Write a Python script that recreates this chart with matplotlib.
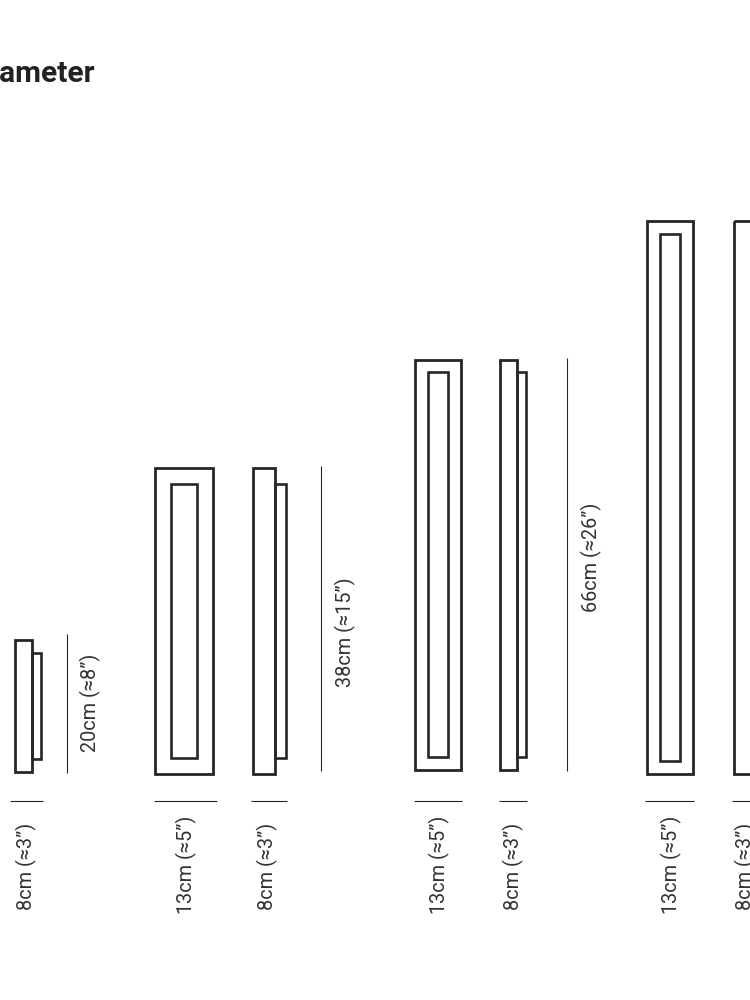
import matplotlib
matplotlib.use("Agg")
import matplotlib.pyplot as plt
from matplotlib.patches import Rectangle

plt.rcParams['font.family'] = ['Roboto', 'DejaVu Sans']

title = "Parameter"

# outline boxes: left, top, right, bottom
outer_left = [15, 155, 253, 415, 500, 647, 734]
outer_right = [32, 213, 274.5, 461, 516.5, 693, 790]
outer_top = [640, 468, 468, 360, 360, 220.5, 220.5]
outer_bottom = [771.5, 774, 774, 770, 770, 774, 774]

inner_left = [32, 171, 275, 428, 517, 660, 790]
inner_right = [41, 196.5, 286, 448, 526, 680, 810]
inner_top = [653, 484, 484, 372, 372, 233.5, 233.5]
inner_bottom = [759, 757.5, 757.5, 757, 757, 761, 761]

# height dimensions
height_x = [66.5, 321, 567]
height_top = [634, 466, 358]
height_bottom = [773, 771, 771]
height_labels = ['20cm (≈8”)', '38cm (≈15”)', '66cm (≈26”)']
height_label_x = [90, 345, 591]
height_label_y = [703, 632, 557]

# width dimensions
width_left = [10, 154, 251, 414, 499, 645, 732]
width_right = [43, 217, 287, 462, 527, 694, 790]
width_y = 800.5
width_labels = ['8cm (≈3”)', '13cm (≈5”)', '8cm (≈3”)', '13cm (≈5”)',
                '8cm (≈3”)', '13cm (≈5”)', '8cm (≈3”)']
width_label_x = [26, 186, 267, 439, 513, 671, 745]
width_label_y = [866, 865, 866, 865, 866, 865, 866]

ink = '#262626'
label_ink = '#333333'

fig = plt.figure(figsize=(7.5, 10), dpi=100, facecolor='white')
ax = fig.add_axes([0, 0, 1, 1])
ax.set_xlim(0, 750)
ax.set_ylim(1000, 0)
ax.axis('off')

for l, r, t, b in zip(inner_left, inner_right, inner_top, inner_bottom):
    ax.add_patch(Rectangle((l, t), r - l, b - t, fill=False, ec=ink, lw=1.9))
for l, r, t, b in zip(outer_left, outer_right, outer_top, outer_bottom):
    ax.add_patch(Rectangle((l, t), r - l, b - t, fill=False, ec=ink, lw=2.0))

for x, t, b in zip(height_x, height_top, height_bottom):
    ax.plot([x, x], [t, b], color=ink, lw=0.8, solid_capstyle='butt')
for l, r in zip(width_left, width_right):
    ax.plot([l, r], [width_y, width_y], color=ink, lw=0.8, solid_capstyle='butt')

for s, x, y in zip(height_labels, height_label_x, height_label_y):
    ax.text(x, y, s, rotation=90, ha='center', va='center', fontsize=14.3, color=label_ink)
for s, x, y in zip(width_labels, width_label_x, width_label_y):
    ax.text(x, y, s, rotation=90, ha='center', va='center', fontsize=14.3, color=label_ink)

ax.text(94.5, 73.5, title, ha='right', va='center', fontsize=21.5, fontweight='bold', color='#222222')

fig.savefig('out.png', dpi=100)
